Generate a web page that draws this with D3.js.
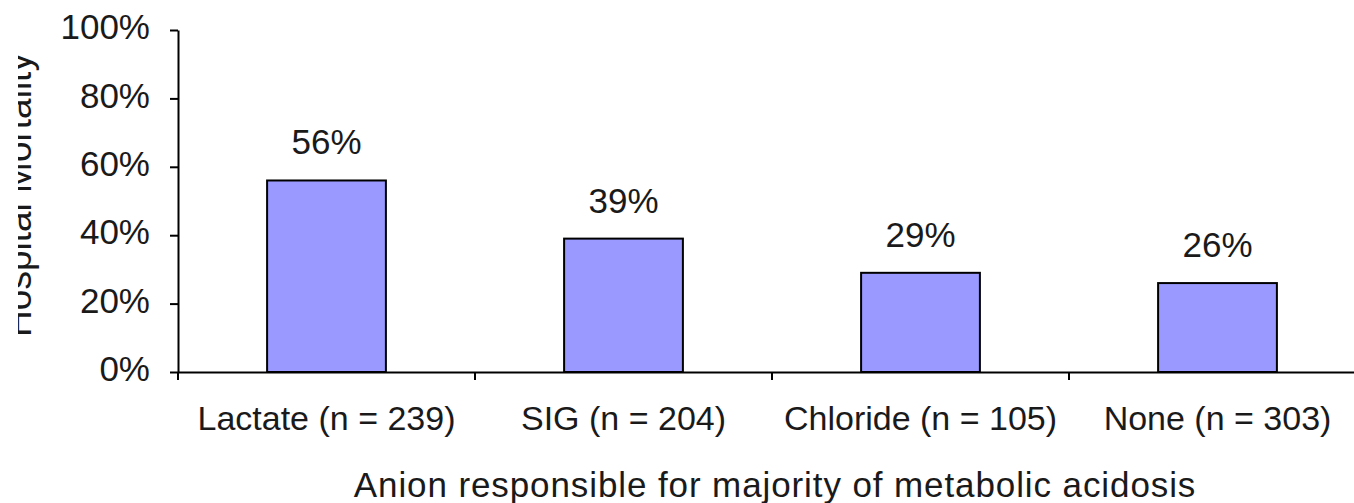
<!DOCTYPE html>
<html>
<head>
<meta charset="utf-8">
<script src="https://cdn.jsdelivr.net/npm/d3@7"></script>
<style>
  html, body { margin: 0; padding: 0; background: #fff; }
  svg { display: block; }
  text { font-family: "Liberation Sans", Arial, sans-serif; fill: #1a1a1a; }
</style>
</head>
<body>
<svg id="chart" width="1354" height="503"></svg>
<script>
// Hospital mortality by the anion responsible for most of the metabolic acidosis
const categories = ["Lactate (n = 239)", "SIG (n = 204)", "Chloride (n = 105)", "None (n = 303)"];
const mortality = [0.56, 0.39, 0.29, 0.26];
const valueLabels = ["56%", "39%", "29%", "26%"];
const yTicks = [0, 0.2, 0.4, 0.6, 0.8, 1.0];
const xTitle = "Anion responsible for majority of metabolic acidosis";
const yTitle = "Hospital Mortality";

const svg = d3.select("#chart");
const plotLeft = 178, plotRight = 1366, plotTop = 30, plotBottom = 372;

const x = d3.scaleBand()
  .domain(categories)
  .range([plotLeft, plotRight])
  .paddingInner(0.6)
  .paddingOuter(0.3);

const y = d3.scaleLinear().domain([0, 1]).range([plotBottom, plotTop]);

// Bars
svg.append("g").selectAll("rect")
  .data(categories)
  .join("rect")
  .attr("x", d => x(d))
  .attr("y", (d, i) => y(mortality[i]))
  .attr("width", x.bandwidth())
  .attr("height", (d, i) => y(0) - y(mortality[i]))
  .attr("fill", "#9999ff")
  .attr("stroke", "#000")
  .attr("stroke-width", 2);

// Value labels above the bars
svg.append("g").selectAll("text")
  .data(categories)
  .join("text")
  .attr("x", d => x(d) + x.bandwidth() / 2)
  .attr("y", (d, i) => y(mortality[i]) - 26)
  .attr("text-anchor", "middle")
  .attr("font-size", 35)
  .text((d, i) => valueLabels[i]);

// Y axis
const yAxis = svg.append("g")
  .attr("transform", `translate(${plotLeft},0)`)
  .call(d3.axisLeft(y).tickValues(yTicks).tickFormat(d3.format(".0%")).tickSize(8).tickSizeOuter(0).tickPadding(20));
yAxis.select(".domain").attr("stroke", "#000").attr("stroke-width", 2);
yAxis.selectAll(".tick line").attr("stroke", "#000").attr("stroke-width", 2);
yAxis.selectAll(".tick text")
  .attr("font-size", 35)
  .attr("font-family", "Liberation Sans, Arial, sans-serif")
  .attr("fill", "#1a1a1a")
  .attr("dy", "0.25em");

// X axis: labels centred on bands, tick marks on band boundaries
const xAxis = svg.append("g")
  .attr("transform", `translate(0,${plotBottom})`)
  .call(d3.axisBottom(x).tickSize(0).tickSizeOuter(0).tickPadding(34));
xAxis.select(".domain").attr("stroke", "#000").attr("stroke-width", 2);
xAxis.selectAll(".tick text")
  .attr("font-size", 34)
  .attr("font-family", "Liberation Sans, Arial, sans-serif")
  .attr("fill", "#1a1a1a");

const half = x.step() * x.paddingInner() / 2;
const boundaries = categories.map(d => x(d) - half)
  .concat([x(categories[categories.length - 1]) + x.bandwidth() + half]);
xAxis.append("g").selectAll("line")
  .data(boundaries)
  .join("line")
  .attr("x1", d => d).attr("x2", d => d)
  .attr("y1", 0).attr("y2", 8)
  .attr("stroke", "#000")
  .attr("stroke-width", 2);

// Axis titles
svg.append("text")
  .attr("x", 775)
  .attr("y", 497)
  .attr("text-anchor", "middle")
  .attr("font-size", 35)
  .attr("letter-spacing", 0.9)
  .text(xTitle);

svg.append("clipPath").attr("id", "ytitle-clip")
  .append("rect").attr("x", 18).attr("y", 0).attr("width", 60).attr("height", 503);

svg.append("g").attr("clip-path", "url(#ytitle-clip)")
  .append("text")
  .attr("transform", `translate(31,${(plotTop + plotBottom) / 2 - 6}) rotate(-90)`)
  .attr("text-anchor", "middle")
  .attr("font-size", 37)
  .text(yTitle);
</script>
</body>
</html>
